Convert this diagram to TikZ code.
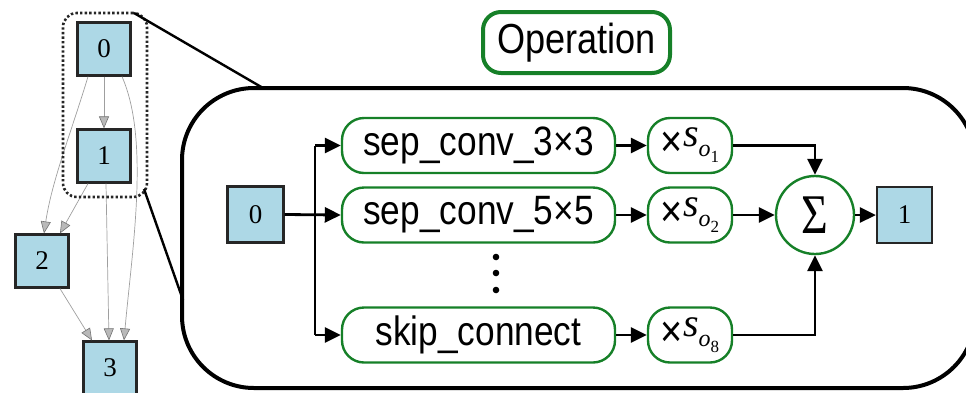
\documentclass[tikz,border=0pt]{standalone}
\usepackage{graphicx}
\usepackage{fontspec}
\setmainfont{Liberation Serif}
\newfontfamily\opfont[FakeStretch=0.86]{Liberation Sans}
\usetikzlibrary{arrows.meta}
\definecolor{opgreen}{RGB}{22,128,40}
\definecolor{cellblue}{RGB}{173,216,230}
% scaling factor label: x s_{o_k}
\newcommand{\opscale}[1]{{\opfont\fontsize{44}{44}\selectfont×}%
  \raisebox{10pt}{\fontsize{40}{40}\selectfont\itshape s}%
  \raisebox{0pt}{\fontsize{24}{24}\selectfont\itshape o}%
  \raisebox{-6pt}{\fontsize{17}{17}\selectfont #1}}
\tikzset{
  cell/.style={draw=black!85, line width=2.2pt, fill=cellblue, minimum width=53pt,
    minimum height=53pt, inner sep=0pt, font=\fontsize{27}{27}\selectfont},
  dagedge/.style={draw=gray!75, line width=0.7pt,
    -{Triangle[length=12pt,width=10pt,fill=gray!55,color=gray!90!black,line width=0.6pt]}},
  opbox/.style={draw=opgreen, line width=2.4pt, rounded corners=22pt, minimum width=273pt,
    minimum height=55pt, inner sep=0pt, font=\opfont\fontsize{41}{41}\selectfont},
  scalebox/.style={draw=opgreen, line width=2.4pt, rounded corners=22pt, minimum width=84pt,
    minimum height=55pt, inner sep=0pt},
  flow/.style={draw=black, line width=2.8pt, -{Triangle[length=16pt,width=15pt]}},
  zoomline/.style={draw=black, line width=2.4pt},
}
\begin{document}
\begin{tikzpicture}[x=1pt,y=-1pt]
\useasboundingbox (0,0) rectangle (966,392);

% ---- cell graph ----
\node[cell] (n0) at (104,49) {0};
\node[cell] (n1) at (104,156) {1};
\node[cell] (n2) at (42,261) {2};
\node[cell] (n3) at (110,368) {3};

\draw[dagedge] (n0.south) -- (n1.north);
\draw[dagedge] ([xshift=-16pt]n0.south) .. controls (72,130) and (52,180) .. ([xshift=2pt]n2.north);
\draw[dagedge] ([xshift=-16pt]n1.south) -- ([xshift=18pt]n2.north);
\draw[dagedge] ([xshift=18pt]n0.south) .. controls (150,140) and (132,250) .. ([xshift=14pt]n3.north);
\draw[dagedge] ([xshift=2pt]n1.south) -- ([xshift=-1pt]n3.north);
\draw[dagedge] ([xshift=18pt]n2.south) -- ([xshift=-18pt]n3.north);

% selected edge group
\node[draw=black!85, line width=2.6pt, dash pattern=on 2.4pt off 2.2pt, rounded corners=14pt,
  minimum width=84pt, minimum height=184pt, inner sep=0pt] (grp) at (105,105) {};

% ---- expanded operation ----
\node[draw=black, line width=4pt, rounded corners=72pt, minimum width=793pt,
  minimum height=300pt, inner sep=0pt] (mix) at (578.5,238) {};

\coordinate (zt0) at (134,13);
\coordinate (zt1) at (263,88);
\coordinate (zb0) at (144,189);
\coordinate (zb1) at (183,300);
\draw[zoomline] (zt0) -- (zt1);
\draw[zoomline] (zb0) -- (zb1);

\node[draw=opgreen, line width=4pt, rounded corners=18pt, minimum width=187pt,
  minimum height=61pt, inner sep=0pt, font=\opfont\fontsize{42}{42}\selectfont]
  (title) at (576.5,42.5) {Operation};

\node[cell, minimum width=56pt, minimum height=56pt] (in0) at (255.5,214.5) {0};

\node[opbox] (op1) at (478.5,145.5) {sep\_conv\_3×3};
\node[opbox] (op2) at (478.5,215) {sep\_conv\_5×5};
\node[opbox] (op3) at (478.5,335) {skip\_connect};

\foreach \yy in {257,273,290}
  \fill (496,\yy) circle (3.3pt);

\node[scalebox] (sc1) at (690,145.5) {\opscale{1}};
\node[scalebox] (sc2) at (690,215) {\opscale{2}};
\node[scalebox] (sc3) at (690,335) {\opscale{8}};

\node[circle, draw=opgreen, line width=2.4pt, minimum size=78pt, inner sep=0pt,
  font=\fontsize{56}{56}\selectfont] (sig) at (815,215) {\scalebox{0.82}[1]{Σ}};

\node[cell, minimum width=55pt, minimum height=56pt] (out) at (904.5,215) {1};

% fan-out from the input node
\coordinate (split) at (315,215);
\draw[flow] (in0.east) -- (op2.west);
\draw[line width=2.8pt] (split |- op1) -- (split |- op3);
\draw[flow] (split |- op1) -- (op1.west);
\draw[flow] (split |- op3) -- (op3.west);

\draw[flow] (op1.east) -- (sc1.west);
\draw[flow] (op2.east) -- (sc2.west);
\draw[flow] (op3.east) -- (sc3.west);

\draw[flow] (sc1.east) -| (sig.north);
\draw[flow] (sc2.east) -- (sig.west);
\draw[flow] (sc3.east) -| (sig.south);
\draw[flow] (sig.east) -- (out.west);
\end{tikzpicture}
\end{document}
